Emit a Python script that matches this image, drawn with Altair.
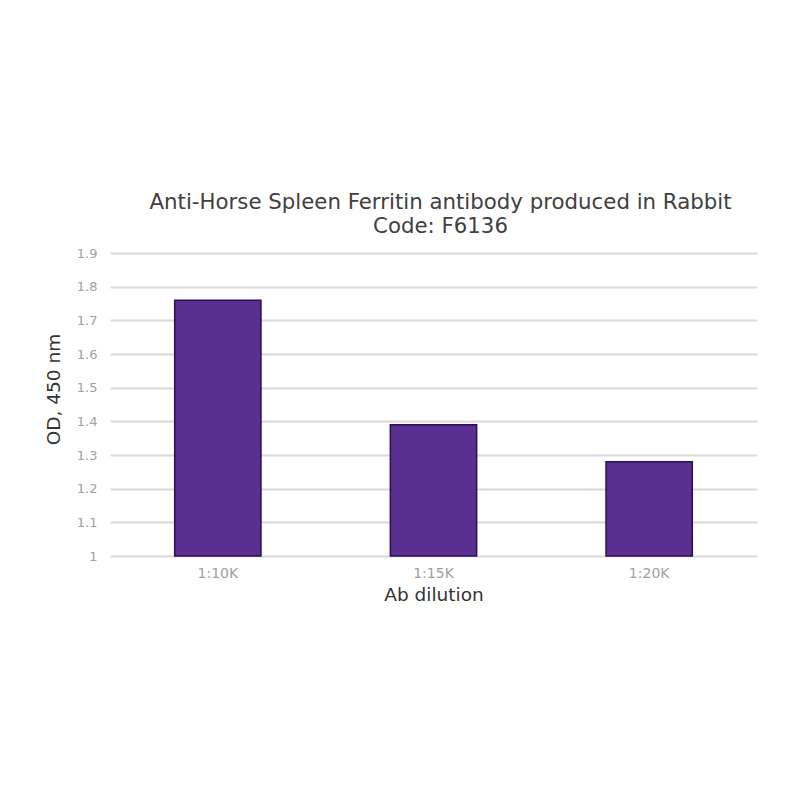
import altair as alt
import pandas as pd

dilutions = ["1:10K", "1:15K", "1:20K"]
od_values = [1.76, 1.39, 1.28]
y_ticks = [1, 1.1, 1.2, 1.3, 1.4, 1.5, 1.6, 1.7, 1.8, 1.9]

df = pd.DataFrame({"dilution": dilutions, "od": od_values})

chart = alt.Chart(df).mark_bar(
    color="#5b2e91", stroke="#2a0f52", strokeWidth=1.5
).encode(
    x=alt.X("dilution:N", sort=dilutions,
            scale=alt.Scale(paddingInner=0.6, paddingOuter=0.3),
            axis=alt.Axis(title="Ab dilution", labelAngle=0, domain=False, ticks=False,
                          labelColor="#a0a0a0", labelFontSize=14, labelFont="DejaVu Sans",
                          labelPadding=10, titleFontSize=18.5, titleFont="DejaVu Sans",
                          titleColor="#333333", titleFontWeight="normal", titlePadding=5)),
    y=alt.Y("od:Q",
            scale=alt.Scale(domain=[1, 1.9], nice=False, zero=False),
            axis=alt.Axis(title="OD, 450 nm", values=y_ticks,
                          format="~g", domain=False, ticks=False, grid=True,
                          gridColor="#d9d9d9", gridWidth=2,
                          labelColor="#a0a0a0", labelFontSize=13, labelFont="DejaVu Sans",
                          labelPadding=13, titleFontSize=18.5, titleFont="DejaVu Sans",
                          titleColor="#333333", titleFontWeight="normal",
                          titleX=-57, titleY=136, titleBaseline="middle", titleAlign="center")),
    y2=alt.datum(1),
).properties(
    width=647,
    height=303,
    title=alt.TitleParams(
        text=["Anti-Horse Spleen Ferritin antibody produced in Rabbit", "Code: F6136"],
        font="DejaVu Sans", fontSize=21.3, fontWeight="normal", color="#404040",
        anchor="middle", offset=10, lineHeight=24, dx=7,
    ),
    padding={"left": 102, "top": 245, "right": 35, "bottom": 230},
    autosize=alt.AutoSizeParams(type="none"),
).configure_view(stroke=None)

chart.save("out.html", embed_options={"renderer": "svg", "actions": False})
